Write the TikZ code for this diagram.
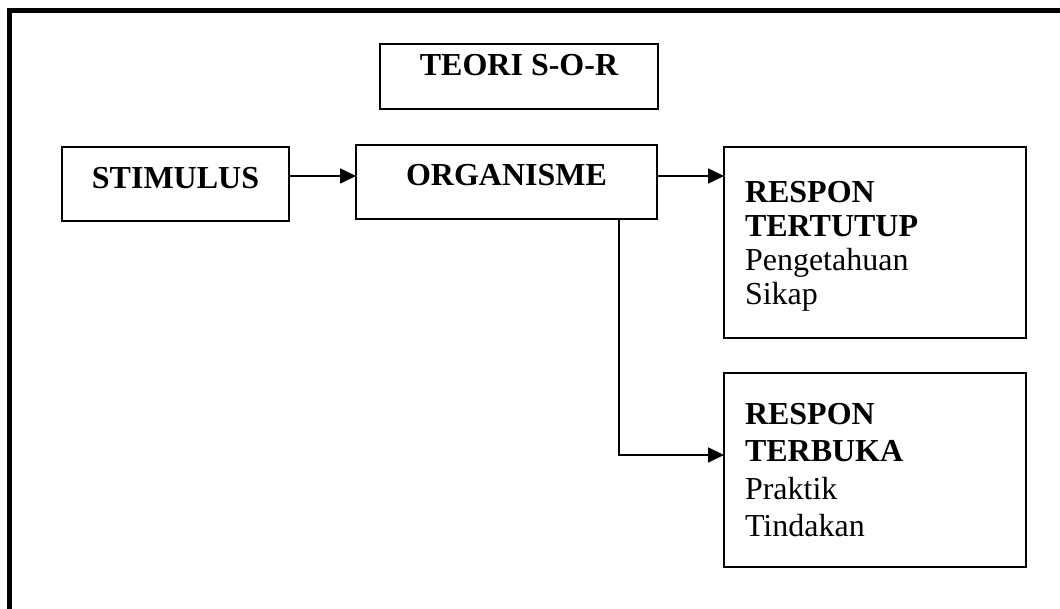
\documentclass[tikz,border=0pt]{standalone}
\usepackage{fontspec}
\setmainfont{Liberation Serif}
\usetikzlibrary{positioning}
\usetikzlibrary{arrows.meta}

\begin{document}
\begin{tikzpicture}[
        x = 1pt, y = -1pt,
        box/.style = {
            draw,
            line width = 1.8pt,
            inner sep = 0pt,
            outer sep = 0pt,
            font = \fontsize{32}{34}\selectfont\bfseries
        },
        resp/.style = {
            box,
            minimum width = 302pt,
            text width = 260pt,
            align = left,
            text depth = 3*#1,
            font = \fontsize{32}{#1}\selectfont
        },
        resp/.default = 34pt,
        link/.style = {
            line width = 1.8pt,
            -{Triangle[length=16pt, width=15pt]}
        }
        ]
%
        \useasboundingbox (0,0) rectangle (1060,609);
        \clip (0,0) rectangle (1060,609);
        \draw[line width = 5pt] (1080,10.5) -- (9.5,10.5) -- (9.5,630);
%
        \node[box, minimum width=278pt, minimum height=65pt, text depth=24pt] (teori) at (519,76.5) {TEORI S-O-R};
%
        \node[box, minimum width=227pt, minimum height=74pt, text depth=13pt] (stim) at (175.5,184) {STIMULUS};
        \node[box, minimum width=301pt, minimum height=74pt, text depth=15pt] (org) at (506.5,182) {ORGANISME};
%
        \node[resp=34pt, minimum height=191pt] (tutup) at (875,242.5) {\textbf{RESPON}\\ \textbf{TERTUTUP}\\ Pengetahuan\\ Sikap};
        \node[resp=37.3pt, minimum height=194pt] (buka) at (875,470) {\textbf{RESPON}\\ \textbf{TERBUKA}\\ Praktik\\ Tindakan};
%
        \coordinate (row) at (0,176);
        \coordinate (turn) at (619,455);
%
        \draw[link] (stim.east |- row) -- (org.west |- row);
        \draw[link] (org.east |- row) -- (tutup.west |- row);
        \draw[link] (org.south -| turn) -- (turn) -- (buka.west |- turn);
%
\end{tikzpicture}
\end{document}
